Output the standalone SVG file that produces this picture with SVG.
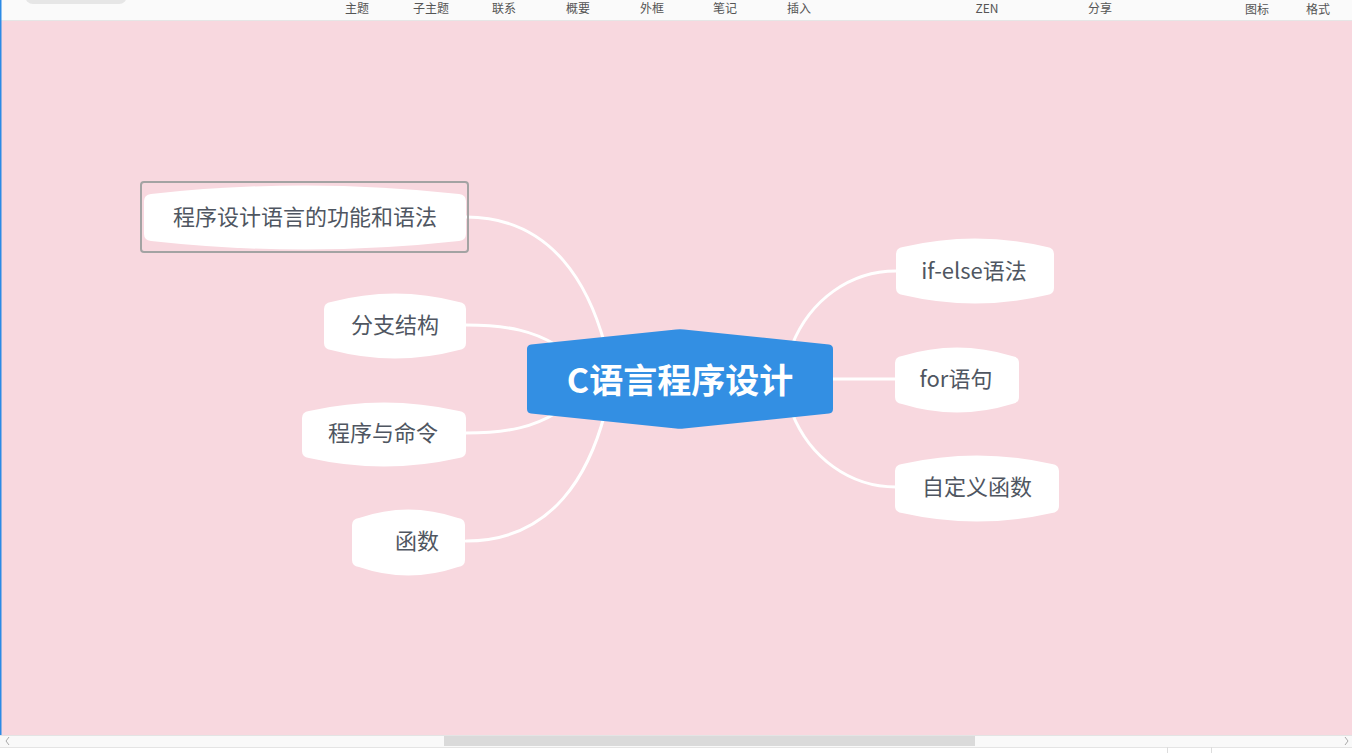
<svg xmlns="http://www.w3.org/2000/svg" width="1352" height="753" viewBox="0 0 1352 753">
<style>
.tb{font-family:"Noto Sans CJK SC","Noto Sans",sans-serif;font-size:12px;fill:#555;text-anchor:middle}
.node{fill:#fff}
.lbl{font-family:"Noto Sans CJK SC","Noto Sans",sans-serif;font-size:22px;fill:#4f5661;text-anchor:middle;dominant-baseline:central}
.conn{fill:none;stroke:#fff;stroke-width:3;stroke-linecap:round}
</style>
<rect x="0" y="0" width="1352" height="753" fill="#f8d8df"/>
<!-- toolbar -->
<rect x="0" y="0" width="1352" height="20" fill="#fafafa"/>
<line x1="0" y1="20.5" x2="1352" y2="20.5" stroke="#e6e6e6"/>
<rect x="25" y="-12" width="102" height="16" rx="8" fill="#e6e6e6"/>
<g class="toolbar">
<text class="tb" x="357" y="13">主题</text>
<text class="tb" x="431" y="13">子主题</text>
<text class="tb" x="504" y="13">联系</text>
<text class="tb" x="578" y="13">概要</text>
<text class="tb" x="652" y="13">外框</text>
<text class="tb" x="725" y="13">笔记</text>
<text class="tb" x="799" y="13">插入</text>
<text class="tb" x="987" y="13">ZEN</text>
<text class="tb" x="1100" y="13">分享</text>
<text class="tb" x="1257" y="14">图标</text>
<text class="tb" x="1318" y="14">格式</text>
</g>
<line x1="0.75" y1="0" x2="0.75" y2="735" stroke="#2b8ae6" stroke-width="1.5"/>
<!-- scrollbar -->
<rect x="0" y="735" width="1352" height="12" fill="#f9f9f9"/>
<line x1="0" y1="735.5" x2="1352" y2="735.5" stroke="#e4e4e4"/>
<rect x="444" y="736" width="531" height="10" fill="#dadada"/>
<path d="M9,737 L6,741 L9,745" fill="none" stroke="#aaa" stroke-width="1"/>
<path d="M1345,737 L1348,741 L1345,745" fill="none" stroke="#aaa" stroke-width="1"/>
<rect x="0" y="747" width="1352" height="6" fill="#fff"/>
<line x1="0" y1="747.5" x2="1352" y2="747.5" stroke="#e4e4e4"/>
<line x1="1167.5" y1="747" x2="1167.5" y2="753" stroke="#ddd"/>
<line x1="1211.5" y1="747" x2="1211.5" y2="753" stroke="#ddd"/>

<g id="connectors">
<path class="conn" d="M466,217 C555,217 590,290 605,345"/>
<path class="conn" d="M466,325 C510,325 535,332 556,345"/>
<path class="conn" d="M466,433 C510,433 535,426 556,413"/>
<path class="conn" d="M466,541 C555,541 590,470 605,413"/>
<path class="conn" d="M896,271 C850,271 810,300 792,345"/>
<path class="conn" d="M833,379 L896,379"/>
<path class="conn" d="M896,487 C850,487 810,458 792,413"/>
</g>

<g id="center">
<path d="M527,349 Q527,345 531,344.5 L676,329.5 Q680,329 684,329.5 L829,344.5 Q833,345 833,349 L833,409 Q833,413 829,413.5 L684,428.5 Q680,429 676,428.5 L531,413.5 Q527,413 527,409 Z" fill="#338fe3"/>
<text x="680" y="378" font-family="'Noto Sans CJK SC','Noto Sans',sans-serif" font-size="34" font-weight="bold" fill="#fff" text-anchor="middle" dominant-baseline="central">C语言程序设计</text>
</g>

<g id="n1">
<rect x="141" y="182" width="327" height="70" rx="3" fill="none" stroke="#a3a3a3" stroke-width="2"/>
<path class="node" d="M144,201 Q144,195 151,194 Q305,177 459,194 Q466,195 466,201 L466,234 Q466,240 459,241 Q305,258 151,241 Q144,240 144,234 Z"/>
<text class="lbl" x="305" y="215">程序设计语言的功能和语法</text>
</g>
<g id="n2">
<path class="node" d="M324,309 Q324,303 331,302 Q395,285 459,302 Q466,303 466,309 L466,343 Q466,349 459,350 Q395,367 331,350 Q324,349 324,343 Z"/>
<text class="lbl" x="395" y="323">分支结构</text>
</g>
<g id="n3">
<path class="node" d="M302,418 Q302,412 309,411 Q384,394 459,411 Q466,412 466,418 L466,451 Q466,457 459,458 Q384,475 309,458 Q302,457 302,451 Z"/>
<text class="lbl" x="383" y="431">程序与命令</text>
</g>
<g id="n4">
<path class="node" d="M352,525 Q352,519 359,518 Q408,501 458,518 Q465,519 465,525 L465,560 Q465,566 458,567 Q408,584 359,567 Q352,566 352,560 Z"/>
<text class="lbl" x="417" y="539">函数</text>
</g>
<g id="n5">
<path class="node" d="M896,254 Q896,248 903,247 Q975,230 1047,247 Q1054,248 1054,254 L1054,288 Q1054,294 1047,295 Q975,312 903,295 Q896,294 896,288 Z"/>
<text class="lbl" x="974" y="269">if-else语法</text>
</g>
<g id="n6">
<path class="node" d="M895,363 Q895,357 902,356 Q957,339 1012,356 Q1019,357 1019,363 L1019,397 Q1019,403 1012,404 Q957,421 902,404 Q895,403 895,397 Z"/>
<text class="lbl" x="956" y="377">for语句</text>
</g>
<g id="n7">
<path class="node" d="M895,471 Q895,465 902,464 Q977,447 1052,464 Q1059,465 1059,471 L1059,506 Q1059,512 1052,513 Q977,530 902,513 Q895,512 895,506 Z"/>
<text class="lbl" x="977" y="485">自定义函数</text>
</g>
</svg>
